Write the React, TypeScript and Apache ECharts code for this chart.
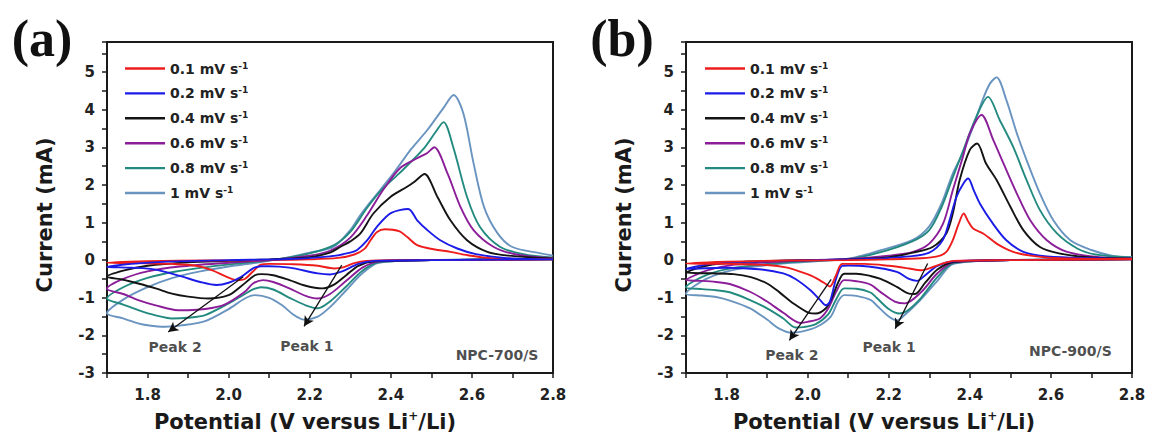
import React, { useEffect, useRef } from 'react';
import * as echarts from 'echarts';

const SPEEDS = ['0.1 mV s-1', '0.2 mV s-1', '0.4 mV s-1', '0.6 mV s-1', '0.8 mV s-1', '1 mV s-1'];
const COLORS = ['#ee1d1d', '#1b1be8', '#141414', '#8b1d99', '#238a80', '#6a94c0'];

// Panel (a) NPC-700/S : cathodic sweep 2.8 -> 1.7 then anodic sweep 1.7 -> 2.8  [V, mA]
const a01 = [[2.8,0.02],[2.6,0.0],[2.4,0.0],[2.34,-0.02],[2.31,-0.08],[2.28,-0.2],[2.26,-0.22],[2.22,-0.15],[2.16,-0.11],[2.1,-0.1],[2.08,-0.12],[2.06,-0.3],[2.04,-0.5],[2.02,-0.53],[1.99,-0.42],[1.96,-0.27],[1.92,-0.15],[1.86,-0.1],[1.78,-0.08],[1.7,-0.07],
  [1.8,-0.03],[1.95,-0.01],[2.1,0.0],[2.2,0.02],[2.27,0.06],[2.31,0.15],[2.335,0.3],[2.35,0.53],[2.366,0.75],[2.386,0.82],[2.42,0.77],[2.44,0.62],[2.465,0.4],[2.505,0.29],[2.547,0.22],[2.59,0.13],[2.65,0.05],[2.8,0.02]];
const a02 = [[2.8,0.02],[2.5,0.0],[2.36,-0.02],[2.32,-0.1],[2.28,-0.3],[2.25,-0.38],[2.22,-0.35],[2.15,-0.2],[2.1,-0.16],[2.08,-0.16],[2.06,-0.22],[2.03,-0.45],[2.0,-0.6],[1.97,-0.66],[1.93,-0.58],[1.88,-0.42],[1.82,-0.25],[1.76,-0.2],[1.7,-0.18],
  [1.76,-0.1],[1.85,-0.04],[2.0,0.0],[2.15,0.03],[2.25,0.1],[2.3,0.2],[2.317,0.27],[2.342,0.53],[2.366,0.89],[2.4,1.25],[2.443,1.36],[2.465,1.06],[2.49,0.8],[2.522,0.53],[2.564,0.31],[2.61,0.16],[2.68,0.06],[2.8,0.02]];
const a04 = [[2.8,0.02],[2.5,0.0],[2.36,-0.03],[2.32,-0.15],[2.29,-0.4],[2.26,-0.65],[2.23,-0.75],[2.19,-0.68],[2.15,-0.53],[2.11,-0.4],[2.08,-0.37],[2.065,-0.4],[2.03,-0.7],[2.0,-0.93],[1.95,-1.02],[1.9,-0.97],[1.86,-0.89],[1.82,-0.75],[1.777,-0.62],[1.74,-0.52],[1.7,-0.44],
  [1.74,-0.28],[1.8,-0.15],[1.9,-0.06],[2.0,-0.02],[2.1,0.02],[2.2,0.08],[2.25,0.2],[2.275,0.35],[2.3,0.5],[2.325,0.71],[2.357,1.24],[2.399,1.68],[2.44,1.95],[2.46,2.1],[2.483,2.29],[2.515,1.68],[2.547,1.06],[2.588,0.53],[2.638,0.22],[2.69,0.12],[2.8,0.04]];
const a06 = [[2.8,0.02],[2.5,0.0],[2.37,-0.04],[2.33,-0.2],[2.29,-0.55],[2.25,-0.9],[2.22,-1.02],[2.19,-0.95],[2.15,-0.75],[2.11,-0.58],[2.085,-0.53],[2.06,-0.62],[2.04,-0.84],[1.99,-1.18],[1.942,-1.3],[1.9,-1.33],[1.875,-1.33],[1.82,-1.2],[1.777,-1.06],[1.74,-0.9],[1.7,-0.76],
  [1.74,-0.5],[1.8,-0.3],[1.88,-0.17],[2.0,-0.07],[2.1,0.0],[2.2,0.12],[2.25,0.25],[2.3,0.6],[2.342,1.2],[2.38,1.85],[2.423,2.45],[2.465,2.71],[2.49,2.85],[2.507,3.0],[2.54,2.3],[2.572,1.41],[2.604,0.8],[2.654,0.35],[2.71,0.15],[2.8,0.05]];
const a08 = [[2.8,0.03],[2.5,0.0],[2.37,-0.06],[2.33,-0.28],[2.29,-0.7],[2.25,-1.1],[2.22,-1.28],[2.19,-1.2],[2.15,-1.0],[2.11,-0.78],[2.08,-0.72],[2.06,-0.78],[2.04,-0.9],[2.0,-1.15],[1.942,-1.46],[1.9,-1.53],[1.86,-1.55],[1.82,-1.47],[1.777,-1.33],[1.74,-1.18],[1.7,-1.02],
  [1.74,-0.72],[1.8,-0.47],[1.87,-0.3],[1.95,-0.18],[2.05,-0.06],[2.12,0.02],[2.2,0.18],[2.26,0.4],[2.3,0.75],[2.342,1.4],[2.38,1.9],[2.42,2.3],[2.48,2.95],[2.51,3.4],[2.53,3.67],[2.554,3.0],[2.588,1.68],[2.62,0.88],[2.67,0.35],[2.73,0.15],[2.8,0.07]];
const a10 = [[2.8,0.04],[2.5,0.0],[2.37,-0.07],[2.33,-0.35],[2.29,-0.8],[2.25,-1.25],[2.22,-1.5],[2.185,-1.58],[2.16,-1.45],[2.132,-1.2],[2.1,-1.0],[2.065,-0.93],[2.04,-1.02],[2.0,-1.3],[1.942,-1.62],[1.88,-1.74],[1.843,-1.77],[1.8,-1.73],[1.777,-1.68],[1.74,-1.55],[1.7,-1.41],
  [1.74,-1.05],[1.8,-0.72],[1.86,-0.48],[1.93,-0.3],[2.0,-0.17],[2.08,-0.05],[2.15,0.08],[2.2,0.2],[2.258,0.35],[2.3,0.8],[2.325,1.2],[2.35,1.55],[2.406,2.3],[2.45,2.95],[2.49,3.46],[2.53,4.05],[2.555,4.39],[2.579,3.9],[2.604,2.58],[2.63,1.41],[2.663,0.72],[2.7,0.35],[2.77,0.18],[2.8,0.12]];

// Panel (b) NPC-900/S
const b01 = [[2.8,0.02],[2.5,0.0],[2.36,-0.02],[2.33,-0.1],[2.3,-0.22],[2.28,-0.27],[2.25,-0.22],[2.2,-0.15],[2.14,-0.1],[2.085,-0.1],[2.07,-0.4],[2.055,-0.7],[2.04,-0.6],[2.01,-0.42],[1.983,-0.31],[1.95,-0.2],[1.9,-0.13],[1.8,-0.1],[1.7,-0.09],
  [1.8,-0.04],[1.95,-0.01],[2.1,0.0],[2.2,0.02],[2.28,0.05],[2.32,0.1],[2.342,0.22],[2.358,0.53],[2.372,0.95],[2.385,1.24],[2.395,1.05],[2.408,0.84],[2.433,0.71],[2.466,0.44],[2.507,0.22],[2.55,0.12],[2.62,0.05],[2.8,0.03]];
const b02 = [[2.8,0.02],[2.5,0.0],[2.36,-0.03],[2.32,-0.15],[2.29,-0.4],[2.27,-0.55],[2.25,-0.5],[2.22,-0.31],[2.15,-0.17],[2.1,-0.14],[2.085,-0.15],[2.07,-0.5],[2.055,-1.1],[2.045,-1.2],[2.03,-1.05],[2.007,-0.8],[1.97,-0.5],[1.94,-0.35],[1.88,-0.24],[1.8,-0.2],[1.7,-0.23],
  [1.76,-0.1],[1.85,-0.04],[2.0,0.0],[2.15,0.03],[2.25,0.1],[2.3,0.2],[2.333,0.53],[2.35,1.06],[2.367,1.68],[2.385,2.05],[2.396,2.17],[2.41,1.85],[2.425,1.5],[2.457,0.97],[2.49,0.53],[2.532,0.22],[2.59,0.1],[2.8,0.03]];
const b04 = [[2.8,0.02],[2.5,0.0],[2.36,-0.05],[2.32,-0.25],[2.29,-0.6],[2.265,-0.9],[2.25,-0.89],[2.22,-0.71],[2.18,-0.5],[2.155,-0.42],[2.12,-0.36],[2.09,-0.36],[2.075,-0.6],[2.06,-1.0],[2.045,-1.28],[2.02,-1.42],[2.003,-1.4],[1.965,-1.15],[1.93,-0.85],[1.9,-0.62],[1.86,-0.45],[1.817,-0.37],[1.76,-0.35],[1.7,-0.33],
  [1.75,-0.15],[1.82,-0.06],[1.95,-0.01],[2.1,0.02],[2.2,0.08],[2.26,0.2],[2.308,0.35],[2.342,0.71],[2.358,1.24],[2.375,2.13],[2.4,2.93],[2.418,3.1],[2.44,2.57],[2.466,2.13],[2.5,1.42],[2.532,0.8],[2.573,0.35],[2.62,0.18],[2.7,0.07],[2.8,0.04]];
const b06 = [[2.8,0.03],[2.5,0.0],[2.36,-0.06],[2.32,-0.35],[2.28,-0.85],[2.24,-1.15],[2.215,-1.1],[2.18,-0.85],[2.155,-0.65],[2.12,-0.56],[2.09,-0.53],[2.07,-0.85],[2.05,-1.3],[2.03,-1.55],[2.0,-1.64],[1.982,-1.67],[1.94,-1.4],[1.9,-1.1],[1.858,-0.84],[1.81,-0.64],[1.774,-0.58],[1.74,-0.55],[1.7,-0.53],
  [1.75,-0.28],[1.82,-0.12],[1.95,-0.03],[2.1,0.03],[2.2,0.12],[2.26,0.22],[2.3,0.44],[2.334,0.97],[2.358,1.86],[2.383,2.75],[2.4,3.37],[2.429,3.86],[2.458,3.19],[2.483,2.57],[2.516,1.77],[2.549,1.06],[2.59,0.53],[2.64,0.22],[2.72,0.08],[2.8,0.05]];
const b08 = [[2.8,0.03],[2.5,0.0],[2.36,-0.08],[2.32,-0.45],[2.28,-1.0],[2.245,-1.35],[2.226,-1.42],[2.2,-1.3],[2.17,-1.0],[2.155,-0.86],[2.12,-0.76],[2.09,-0.75],[2.07,-1.05],[2.05,-1.45],[2.02,-1.7],[1.99,-1.78],[1.97,-1.79],[1.94,-1.55],[1.9,-1.28],[1.858,-1.06],[1.81,-0.86],[1.774,-0.8],[1.74,-0.77],[1.7,-0.72],
  [1.75,-0.4],[1.82,-0.2],[1.95,-0.06],[2.1,0.03],[2.176,0.2],[2.258,0.5],[2.3,0.8],[2.33,1.4],[2.358,2.2],[2.383,2.9],[2.416,3.81],[2.445,4.34],[2.474,3.72],[2.507,3.01],[2.54,2.13],[2.573,1.33],[2.615,0.71],[2.665,0.31],[2.71,0.15],[2.8,0.07]];
const b10 = [[2.8,0.04],[2.5,0.0],[2.36,-0.1],[2.32,-0.55],[2.27,-1.15],[2.24,-1.45],[2.22,-1.6],[2.2,-1.5],[2.17,-1.2],[2.156,-1.06],[2.12,-0.95],[2.09,-0.93],[2.075,-1.1],[2.057,-1.5],[2.023,-1.77],[1.985,-1.9],[1.96,-1.93],[1.93,-1.82],[1.9,-1.58],[1.858,-1.28],[1.81,-1.08],[1.774,-0.98],[1.74,-0.94],[1.7,-0.89],
  [1.75,-0.5],[1.82,-0.25],[1.95,-0.08],[2.1,0.04],[2.176,0.25],[2.258,0.53],[2.3,0.9],[2.33,1.5],[2.358,2.3],[2.383,2.85],[2.408,3.55],[2.433,4.3],[2.45,4.7],[2.466,4.86],[2.49,4.26],[2.516,3.37],[2.54,2.66],[2.573,1.77],[2.606,1.06],[2.648,0.53],[2.7,0.27],[2.75,0.12],[2.8,0.08]];

const CURVES_A = [a01, a02, a04, a06, a08, a10];
const CURVES_B = [b01, b02, b04, b06, b08, b10];
// draw order (last on top)
const ORDER_A = [5, 4, 3, 2, 0, 1];
const ORDER_B = [5, 4, 3, 2, 1, 0];

const ARROWS_A = [[[2.036, -0.44], [1.851, -1.91]], [[2.279, -0.13], [2.186, -1.76]]];
const ARROWS_B = [[[2.058, -0.51], [1.955, -2.13]], [[2.296, -0.09], [2.216, -1.82]]];
const LABELS_A = [['Peak 2', 1.868, -2.31], ['Peak 1', 2.193, -2.28], ['NPC-700/S', 2.662, -2.53]];
const LABELS_B = [['Peak 2', 1.961, -2.53], ['Peak 1', 2.201, -2.31], ['NPC-900/S', 2.648, -2.42]];
const PANEL_TAGS = ['(a)', '(b)'];

const X_MIN = 1.7, X_MAX = 2.8, X_STEP = 0.1;
const Y_MIN = -3, Y_MAX = 5.8, Y_STEP = 0.5;

const FONT = '"DejaVu Sans", sans-serif';
const INK = '#1a1a1a';
const LEGEND_ICON = 'path://M0,0 L40,0 L40,2.4 L0,2.4 Z';

const GRIDS = [
  { left: 107, top: 42, width: 446, height: 331 },
  { left: 686, top: 42, width: 446, height: 331 },
];

function xAxis(gi: number) {
  return {
    type: 'value', gridIndex: gi, min: X_MIN, max: X_MAX, interval: X_STEP,
    axisLine: { show: true, onZero: false, lineStyle: { color: INK, width: 2 } },
    axisTick: { show: true, length: 5, lineStyle: { color: INK, width: 1.5 } },
    splitLine: { show: false },
    axisLabel: {
      interval: 0, margin: 14, showMinLabel: true, showMaxLabel: true,
      color: '#222', fontFamily: FONT, fontWeight: 'bold', fontSize: 15,
      formatter: (v: number) => {
        const k = Math.round(v * 10);
        return Math.abs(v * 10 - k) < 1e-6 && k % 2 === 0 ? (k / 10).toFixed(1) : '';
      },
    },
    name: '{a|Potential (V versus Li}{s|+}{a|/Li)}',
    nameLocation: 'middle', nameGap: 37,
    nameTextStyle: {
      padding: [0, 50, 0, 0],
      rich: {
        a: { fontFamily: FONT, fontWeight: 'bold', fontSize: 21, color: INK, lineHeight: 24 },
        s: { fontFamily: FONT, fontWeight: 'bold', fontSize: 12, color: INK, lineHeight: 14, verticalAlign: 'top' },
      },
    },
  };
}

function yAxis(gi: number) {
  return {
    type: 'value', gridIndex: gi, min: Y_MIN, max: Y_MAX, interval: Y_STEP,
    axisLine: { show: true, onZero: false, lineStyle: { color: INK, width: 2 } },
    axisTick: { show: true, length: 5, lineStyle: { color: INK, width: 1.5 } },
    splitLine: { show: false },
    axisLabel: {
      interval: 0, margin: 12, showMinLabel: true,
      color: '#222', fontFamily: FONT, fontWeight: 'bold', fontSize: 15,
      formatter: (v: number) => {
        const r = Math.round(v);
        return Math.abs(v - r) < 1e-6 && r <= 5 ? String(r) : '';
      },
    },
    name: 'Current (mA)', nameLocation: 'middle', nameGap: 52, nameRotate: 90,
    nameTextStyle: { fontFamily: FONT, fontWeight: 'bold', fontSize: 21, color: INK, padding: [0, 15, 0, 0] },
  };
}

function legendFmt(name: string) {
  return `{t|${name.replace(' s-1', ' s')}}{s|-1}`;
}

function legend(left: number) {
  return {
    data: SPEEDS.map((n) => ({ name: n, icon: LEGEND_ICON })),
    orient: 'vertical', left, top: 61, padding: 0, itemWidth: 40, itemHeight: 14, itemGap: 10.4,
    formatter: legendFmt, selectedMode: false,
    textStyle: {
      fontFamily: FONT, fontWeight: 'bold', fontSize: 14, color: '#222',
      rich: {
        t: { fontFamily: FONT, fontWeight: 'bold', fontSize: 14, color: '#222', lineHeight: 15 },
        s: { fontFamily: FONT, fontWeight: 'bold', fontSize: 9, color: '#222', lineHeight: 10, verticalAlign: 'top' },
      },
    },
  };
}

function curveSeries(curves: number[][][], order: number[], gi: number) {
  return order.map((i) => ({
    type: 'line', name: SPEEDS[i], xAxisIndex: gi, yAxisIndex: gi,
    data: curves[i], symbol: 'none', smooth: 0.3,
    lineStyle: { color: COLORS[i], width: 1.9 }, itemStyle: { color: COLORS[i] },
  }));
}

function noteSeries(labels: any[], arrows: number[][][], gi: number) {
  return {
    type: 'scatter', name: 'notes' + gi, xAxisIndex: gi, yAxisIndex: gi, symbolSize: 0, silent: true, z: 10,
    data: labels.map((l) => ({ name: l[0], value: [l[1], l[2]] })),
    label: { show: true, position: 'inside', formatter: '{b}', fontFamily: FONT, fontWeight: 'bold', fontSize: 14, color: '#1e1e1e' },
    markLine: {
      silent: true, symbol: ['none', 'arrow'], symbolSize: [8, 10],
      lineStyle: { color: '#111', width: 1.3, type: 'solid' },
      label: { show: false },
      data: arrows.map((a) => [{ coord: a[0] }, { coord: a[1] }]),
    },
  };
}

export default function App() {
  const ref = useRef<HTMLDivElement>(null);
  useEffect(() => {
    const chart = echarts.init(ref.current!, null, { renderer: 'svg' });
    const option: any = {
      animation: false,
      backgroundColor: '#fff',
      grid: GRIDS.map((g) => ({ ...g, show: true, borderColor: INK, borderWidth: 2, backgroundColor: 'transparent', outerBoundsMode: 'none' })),
      xAxis: [xAxis(0), xAxis(1)],
      yAxis: [yAxis(0), yAxis(1)],
      legend: [legend(125), legend(705)],
      series: [
        ...curveSeries(CURVES_A, ORDER_A, 0),
        ...curveSeries(CURVES_B, ORDER_B, 1),
        noteSeries(LABELS_A, ARROWS_A, 0),
        noteSeries(LABELS_B, ARROWS_B, 1),
      ],
      graphic: PANEL_TAGS.map((t, i) => ({
        type: 'text', x: i === 0 ? 42 : 622, y: 38,
        style: { text: t, fontFamily: '"Liberation Serif", serif', fontWeight: 'bold', fontSize: 52, fill: '#111', align: 'center', verticalAlign: 'middle' },
      })),
    };
    chart.setOption(option);
    return () => chart.dispose();
  }, []);
  return <div ref={ref} style={{ position: 'fixed', left: 0, top: 0, width: 1151, height: 443, background: '#fff' }} />;
}
